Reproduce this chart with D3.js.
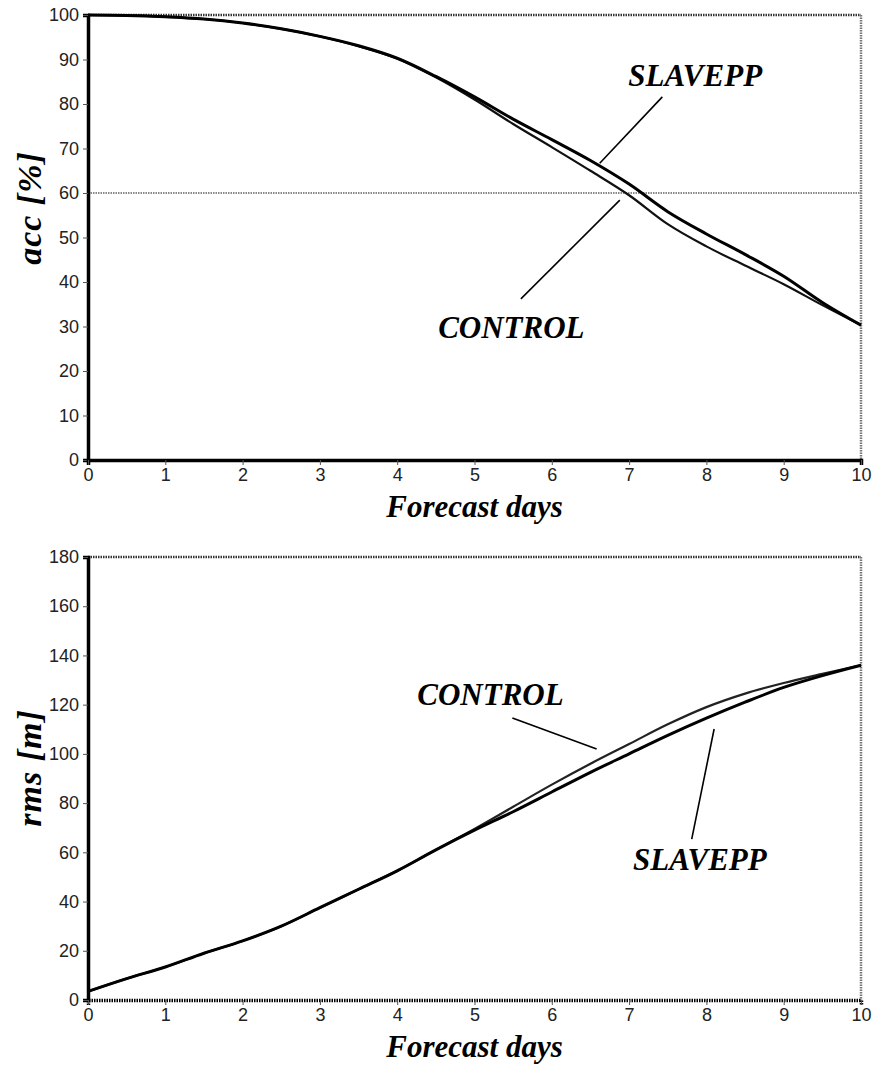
<!DOCTYPE html>
<html>
<head>
<meta charset="utf-8">
<script src="https://cdn.jsdelivr.net/npm/d3@7/dist/d3.min.js"></script>
<style>
  html, body { margin: 0; padding: 0; background: #fff; }
  svg { display: block; }
  .tick text { font-family: "Liberation Sans", Arial, sans-serif; font-size: 18px; fill: #222; }
  .title { font-family: "Liberation Serif", "Times New Roman", serif; font-weight: bold; font-style: italic; font-size: 31px; fill: #000; }
  .ytitle { font-size: 34px; }
</style>
</head>
<body>
<svg id="chart" width="874" height="1069"></svg>
<script>
// Forecast lead time (days)
const days = [0, 0.5, 1, 1.5, 2, 2.5, 3, 3.5, 4, 4.5, 5, 5.5, 6, 6.5, 7, 7.5, 8, 8.5, 9, 9.5, 10];

// Anomaly correlation (%)
const accSlavepp = [100, 99.9, 99.6, 99.1, 98.2, 96.9, 95.2, 93.1, 90.3, 86.2, 81.6, 76.6, 72.0, 67.3, 62.0, 55.8, 50.8, 46.2, 41.3, 35.4, 30.3];
const accControl = [100, 99.9, 99.6, 99.1, 98.2, 96.9, 95.2, 93.0, 90.2, 86.0, 81.0, 75.5, 70.3, 65.0, 59.5, 53.0, 48.0, 43.7, 39.5, 34.8, 30.3];

// RMS error (m)
const rmsControl = [3.5, 8.7, 13.4, 19.0, 24.0, 30.0, 37.5, 45.0, 52.5, 61.0, 69.5, 78.5, 87.5, 96.0, 104.0, 112.0, 119.0, 124.5, 128.8, 132.5, 136.0];
const rmsSlavepp = [3.5, 8.7, 13.4, 19.0, 24.0, 30.0, 37.5, 45.0, 52.5, 61.0, 69.0, 76.5, 84.5, 92.5, 100.0, 107.5, 114.5, 121.0, 127.0, 131.8, 136.0];

const xTicks = [0, 1, 2, 3, 4, 5, 6, 7, 8, 9, 10];
const accTicks = [0, 10, 20, 30, 40, 50, 60, 70, 80, 90, 100];
const rmsTicks = [0, 20, 40, 60, 80, 100, 120, 140, 160, 180];
const accThreshold = 60;

const svg = d3.select("#chart");

function panel(cfg) {
  const x = d3.scaleLinear().domain([0, 10]).range([88, 861]);
  const y = d3.scaleLinear().domain(cfg.domain).range([cfg.bottom, cfg.top]);
  const g = svg.append("g");

  // frame: dotted top and right edges
  g.append("line").attr("x1", x(0)).attr("x2", x(10)).attr("y1", y(cfg.domain[1])).attr("y2", y(cfg.domain[1]))
    .attr("stroke", "#333").attr("stroke-width", 2.5).attr("stroke-dasharray", "1.5,1");
  g.append("line").attr("x1", x(10)).attr("x2", x(10)).attr("y1", y(cfg.domain[1])).attr("y2", y(0))
    .attr("stroke", "#777").attr("stroke-width", 2.5).attr("stroke-dasharray", "1.5,1");

  if (cfg.threshold !== undefined) {
    g.append("line").attr("x1", x(0)).attr("x2", x(10)).attr("y1", y(cfg.threshold)).attr("y2", y(cfg.threshold))
      .attr("stroke", "#888").attr("stroke-width", 2).attr("stroke-dasharray", "1.5,1");
  }

  // axes
  const ya = g.append("g").attr("transform", `translate(${x(0)},0)`)
    .call(d3.axisLeft(y).tickValues(cfg.ticks).tickSize(5).tickPadding(4).tickFormat(d3.format("d")));
  ya.select(".domain").attr("stroke", "#000").attr("stroke-width", 3.5);
  ya.selectAll(".tick line").attr("stroke", "#555").attr("stroke-width", 1);

  const xa = g.append("g").attr("transform", `translate(0,${y(0)})`)
    .call(d3.axisBottom(x).tickValues(xTicks).tickSize(5).tickPadding(3).tickFormat(d3.format("d")));
  xa.select(".domain").attr("stroke", "#000").attr("stroke-width", 3.5)
    .attr("stroke-dasharray", cfg.dottedBase ? "1.5,1" : null);
  xa.selectAll(".tick line").attr("stroke", "#555").attr("stroke-width", 1);

  // series
  const line = d3.line().x((d, i) => x(days[i])).y(d => y(d)).curve(d3.curveMonotoneX);
  cfg.series.forEach(s => {
    g.append("path").datum(s.values).attr("d", line)
      .attr("fill", "none").attr("stroke", s.color).attr("stroke-width", s.width)
      .attr("stroke-linejoin", "round");
  });

  // annotations with leader lines
  cfg.labels.forEach(l => {
    g.append("text").attr("class", "title").attr("x", x(l.tx)).attr("y", y(l.ty)).text(l.text);
    g.append("line").attr("x1", x(l.l1[0])).attr("y1", y(l.l1[1]))
      .attr("x2", x(l.l2[0])).attr("y2", y(l.l2[1]))
      .attr("stroke", "#000").attr("stroke-width", 1.6);
  });

  // axis titles
  g.append("text").attr("class", "title").attr("text-anchor", "middle")
    .attr("x", (x(0) + x(10)) / 2).attr("y", y(0) + 57).text("Forecast days");
  g.append("text").attr("class", "title ytitle").attr("text-anchor", "middle")
    .attr("letter-spacing", 1)
    .attr("transform", `translate(41,${cfg.yTitleAt}) rotate(-90)`)
    .text(cfg.yTitle);
}

panel({
  domain: [0, 100], top: 15, bottom: 460, ticks: accTicks, threshold: accThreshold,
  yTitle: "acc [%]", yTitleAt: 208, dottedBase: false,
  series: [
    { values: accControl, color: "#111", width: 2.2 },
    { values: accSlavepp, color: "#000", width: 3 }
  ],
  labels: [
    { text: "SLAVEPP", tx: 6.99, ty: 84, l1: [7.43, 81.6], l2: [6.62, 66.7] },
    { text: "CONTROL", tx: 4.53, ty: 27.4, l1: [6.88, 58.4], l2: [5.6, 36.2] }
  ]
});

panel({
  domain: [0, 180], top: 557, bottom: 1000, ticks: rmsTicks,
  yTitle: "rms [m]", yTitleAt: 768, dottedBase: true,
  series: [
    { values: rmsControl, color: "#222", width: 2.2 },
    { values: rmsSlavepp, color: "#000", width: 3 }
  ],
  labels: [
    { text: "CONTROL", tx: 4.26, ty: 119.9, l1: [5.49, 114.6], l2: [6.58, 102] },
    { text: "SLAVEPP", tx: 7.05, ty: 52.8, l1: [8.1, 110.1], l2: [7.81, 65.4] }
  ]
});
</script>
</body>
</html>
